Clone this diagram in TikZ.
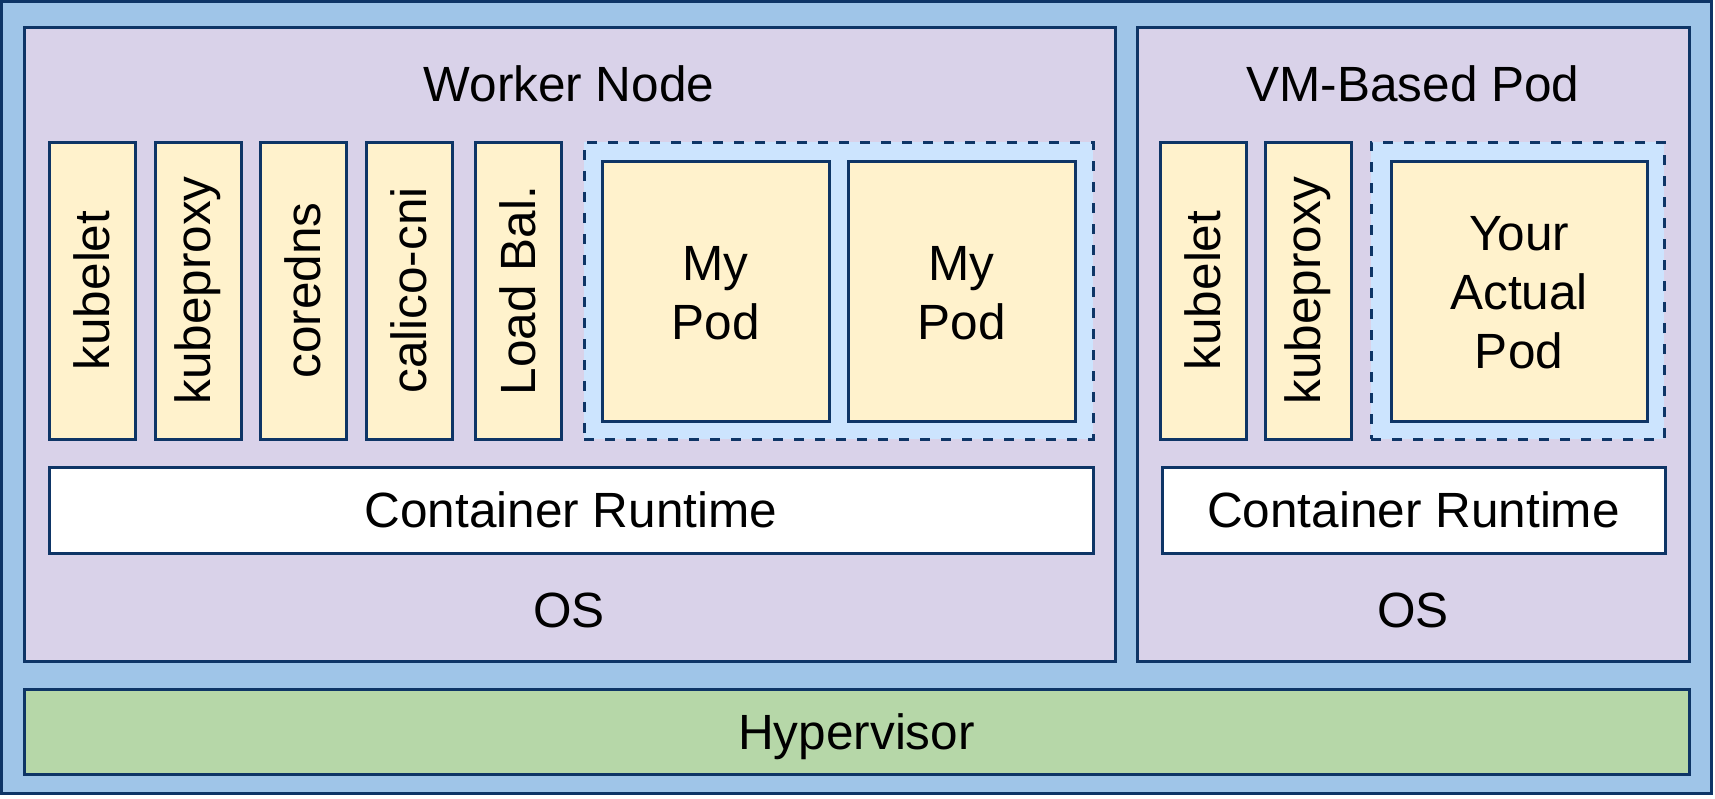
\documentclass[tikz,border=0pt]{standalone}
\usepackage{fontspec}
\setmainfont{Liberation Sans}
\definecolor{navy}{HTML}{0E3566}
\definecolor{outerblue}{HTML}{9FC5E8}
\definecolor{purp}{HTML}{D9D2E9}
\definecolor{yel}{HTML}{FFF2CC}
\definecolor{grn}{HTML}{B6D7A8}
\definecolor{ltblue}{HTML}{CCE4FE}
\begin{document}
\begin{tikzpicture}[x=1pt,y=-1pt,
  base/.style={draw=navy, line width=3pt, rectangle, inner sep=0pt, outer sep=0pt, anchor=north west, font=\fontsize{49.5}{59}\selectfont, align=center},
  outerbox/.style={base, fill=outerblue},
  panel/.style={base, fill=purp},
  comp/.style={base, fill=yel},
  podgroup/.style={base, fill=ltblue, dash pattern=on 10pt off 11pt},
  runtime/.style={base, fill=white},
  hyper/.style={base, fill=grn},
  lbl/.style={font=\fontsize{49.5}{59}\selectfont, align=center, inner sep=0pt}
]
\useasboundingbox (0,0) rectangle (1715,798);
\node[outerbox, minimum width=1710pt, minimum height=792pt] (outer) at (1.5,1.5) {};
% Worker node
\node[panel, minimum width=1091pt, minimum height=634pt] (worker) at (24,27) {};
\node[lbl] (wtitle) at (569,84) {Worker Node};
\node[comp, minimum width=86pt, minimum height=297pt] (wk1) at (49,142) {};
\node[lbl, rotate=90] at (wk1.center) {kubelet};
\node[comp, minimum width=86pt, minimum height=297pt] (wk2) at (155,142) {};
\node[lbl, rotate=90] at (wk2.center) {kubeproxy};
\node[comp, minimum width=86pt, minimum height=297pt] (wk3) at (260,142) {};
\node[lbl, rotate=90] at (wk3.center) {coredns};
\node[comp, minimum width=86pt, minimum height=297pt] (wk4) at (366,142) {};
\node[lbl, rotate=90] at (wk4.center) {calico-cni};
\node[comp, minimum width=86pt, minimum height=297pt] (wk5) at (475,142) {};
\node[lbl, rotate=90] at (wk5.center) {Load Bal.};
\node[podgroup, minimum width=509pt, minimum height=297pt] (wpods) at (584,142) {};
\node[comp, minimum width=227pt, minimum height=260pt] (pod1) at (602,161) {};
\node[lbl] at ([yshift=-2pt]pod1.center) {My\\Pod};
\node[comp, minimum width=227pt, minimum height=260pt] (pod2) at (848,161) {};
\node[lbl] at ([yshift=-2pt]pod2.center) {My\\Pod};
\node[runtime, minimum width=1044pt, minimum height=86pt] (wcr) at (49,467) {Container Runtime};
\node[lbl] (wos) at (569,610) {OS};
% VM based pod
\node[panel, minimum width=552pt, minimum height=634pt] (vm) at (1137,27) {};
\node[lbl] (vtitle) at (1413,84) {VM-Based Pod};
\node[comp, minimum width=86pt, minimum height=297pt] (vk1) at (1160,142) {};
\node[lbl, rotate=90] at (vk1.center) {kubelet};
\node[comp, minimum width=86pt, minimum height=297pt] (vk2) at (1265,142) {};
\node[lbl, rotate=90] at (vk2.center) {kubeproxy};
\node[podgroup, minimum width=293pt, minimum height=297pt] (vpods) at (1371,142) {};
\node[comp, minimum width=256pt, minimum height=260pt] (vpod) at (1391,161) {};
\node[lbl] at ([yshift=-2pt]vpod.center) {Your\\Actual\\Pod};
\node[runtime, minimum width=503pt, minimum height=86pt] (vcr) at (1162,467) {Container Runtime};
\node[lbl] (vos) at (1413,610) {OS};
% Hypervisor
\node[hyper, minimum width=1665pt, minimum height=85pt] (hyp) at (24,689) {};
\node[lbl] at ([yshift=-5pt]hyp.center) {Hypervisor};
\end{tikzpicture}
\end{document}
